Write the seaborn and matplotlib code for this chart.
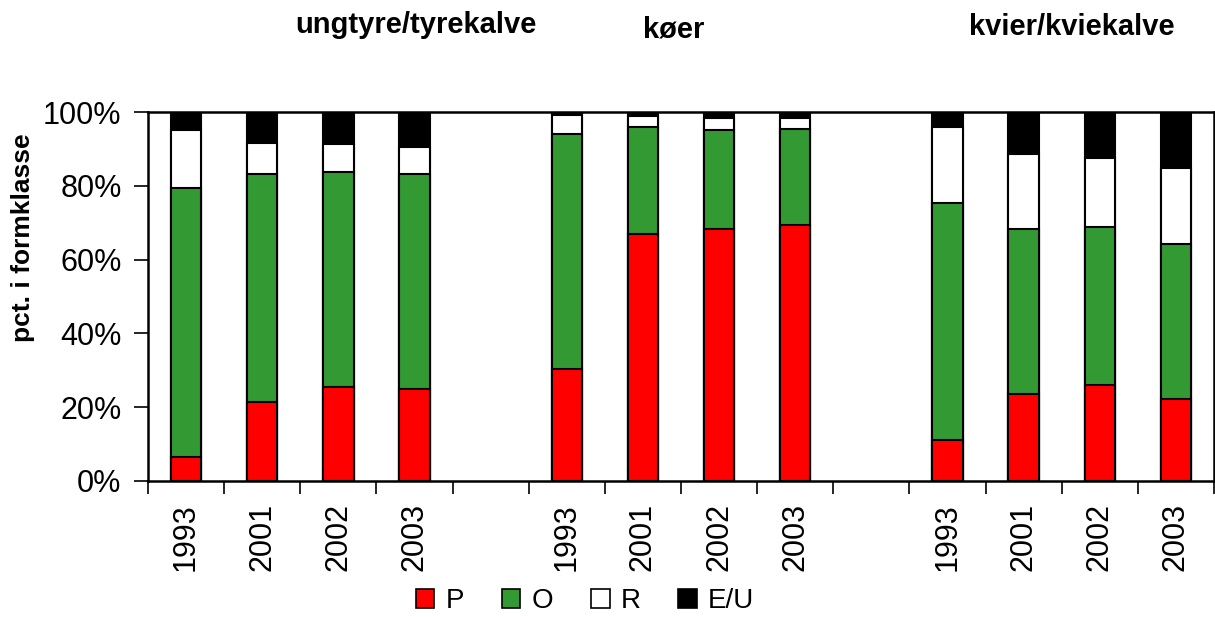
import matplotlib
matplotlib.use("Agg")
import matplotlib.pyplot as plt
import matplotlib.patches as mpatches
from matplotlib.ticker import FixedLocator, PercentFormatter
import seaborn as sns
import pandas as pd
import numpy as np

# ---- data (percent of animals per conformation class) ----
groups = ["ungtyre/tyrekalve", "køer", "kvier/kviekalve"]
years = ["1993", "2001", "2002", "2003"]
classes = ["P", "O", "R", "E/U"]

P_ungtyre = [6.5, 21.4, 25.5, 25.0]
O_ungtyre = [73.0, 61.7, 58.2, 58.3]
R_ungtyre = [15.5, 8.4, 7.6, 7.3]

P_koer = [30.4, 67.0, 68.4, 69.3]
O_koer = [63.6, 28.8, 26.6, 26.2]
R_koer = [5.3, 3.0, 3.4, 3.0]

P_kvier = [11.0, 23.7, 25.9, 22.2]
O_kvier = [64.4, 44.7, 42.8, 41.9]
R_kvier = [20.5, 20.1, 18.9, 20.6]

colors = {"P": "#FF0000", "O": "#339933", "R": "#FFFFFF", "E/U": "#000000"}

# ---- build long table ----
rows = []
pos = 0
for g, P, O, R in [(groups[0], P_ungtyre, O_ungtyre, R_ungtyre),
                   (groups[1], P_koer, O_koer, R_koer),
                   (groups[2], P_kvier, O_kvier, R_kvier)]:
    for i, y in enumerate(years):
        E = 100 - P[i] - O[i] - R[i]
        rows.append(dict(group=g, year=y, pos=pos, P=P[i], O=O[i], R=R[i], EU=E))
        pos += 1
    pos += 1  # empty slot between groups
df = pd.DataFrame(rows)
df["c_P"] = df["P"]
df["c_O"] = df["c_P"] + df["O"]
df["c_R"] = df["c_O"] + df["R"]
df["c_EU"] = df["c_R"] + df["EU"]

sns.set_theme(style="white")
plt.rcParams["font.family"] = ["Liberation Sans", "DejaVu Sans"]
plt.rcParams.update({"text.color": "black", "axes.labelcolor": "black",
                     "xtick.color": "black", "ytick.color": "black"})

W, H = 1215, 617
fig = plt.figure(figsize=(W / 100, H / 100), dpi=100)
ax = fig.add_axes([148 / W, 1 - 481 / H, (1214 - 148) / W, (481 - 112) / H])

for col, cls in [("c_EU", "E/U"), ("c_R", "R"), ("c_O", "O"), ("c_P", "P")]:
    sns.barplot(data=df, x="pos", y=col, native_scale=True, width=0.4,
                color=colors[cls], saturation=1, edgecolor="black",
                linewidth=1.5, errorbar=None, ax=ax)

ax.set_xlim(-0.5, 13.5)
ax.set_ylim(0, 100)
ax.set_xticks(df["pos"].to_list())
ax.set_xticklabels(df["year"].to_list(), rotation=90, fontsize=22)
ax.xaxis.set_minor_locator(FixedLocator(np.arange(-0.5, 14, 1.0)))
ax.tick_params(axis="x", which="major", length=0, pad=16)
ax.tick_params(axis="x", which="minor", length=9, width=1.2, direction="out",
               color="black", bottom=True)
ax.yaxis.set_major_locator(FixedLocator([0, 20, 40, 60, 80, 100]))
ax.yaxis.set_major_formatter(PercentFormatter(decimals=0))
ax.tick_params(axis="y", which="major", length=10, width=1.2, direction="out",
               color="black", left=True, labelsize=22, pad=9)
ax.set_xlabel("")
ax.set_ylabel("pct. i formklasse", fontsize=19, fontweight="bold")
ax.yaxis.set_label_coords(-0.106, 0.66)
for s in ax.spines.values():
    s.set_color("black")
    s.set_linewidth(1.8)

# group titles
fig.text(416 / W, 1 - 33 / H, groups[0], ha="center", va="baseline",
         fontsize=21, fontweight="bold")
fig.text(674 / W, 1 - 38 / H, groups[1], ha="center", va="baseline",
         fontsize=21, fontweight="bold")
fig.text(1072 / W, 1 - 35 / H, groups[2], ha="center", va="baseline",
         fontsize=21, fontweight="bold")

handles = [mpatches.Patch(facecolor=colors[c], edgecolor="black", linewidth=1.2, label=c)
           for c in classes]
fig.legend(handles=handles, loc="center", bbox_to_anchor=(585 / W, 1 - 601 / H),
           ncol=4, frameon=False, fontsize=20, handlelength=0.68, handleheight=0.68,
           handletextpad=0.4, columnspacing=1.35, borderpad=0, borderaxespad=0)

fig.savefig("out.png", dpi=100)
